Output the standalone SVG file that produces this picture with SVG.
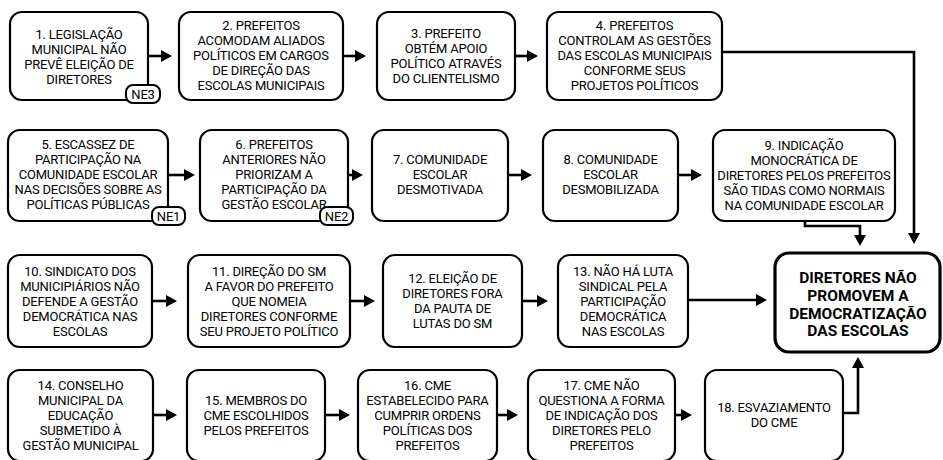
<svg xmlns="http://www.w3.org/2000/svg" width="943" height="460" viewBox="0 0 943 460">
<style>
.box{fill:#fff;stroke:#000;stroke-width:2.2}
.fin{fill:#fff;stroke:#000;stroke-width:3.2}
.badge{fill:#fff;stroke:#000;stroke-width:2}
.t{font-family:Roboto,"Liberation Sans",sans-serif;font-size:13px;text-anchor:middle;fill:#000;letter-spacing:-0.2px}
.b{font-family:Roboto,"Liberation Sans",sans-serif;font-size:15.5px;font-weight:bold;text-anchor:middle;fill:#000}
.c{fill:none;stroke:#000;stroke-width:2.6;marker-end:url(#ah)}
</style>
<defs>
<marker id="ah" markerUnits="userSpaceOnUse" markerWidth="12" markerHeight="12" refX="0" refY="6" orient="auto">
<path d="M0,0 L11,6 L0,12 z" fill="#000"/>
</marker>
</defs>
<g id="connectors">
<path class="c" d="M148,56 H161"/>
<path class="c" d="M343,56 H355"/>
<path class="c" d="M515,56 H527"/>
<path class="c" d="M722,52 H914 V233"/>
<path class="c" d="M168,175 H184"/>
<path class="c" d="M348,175 H352"/>
<path class="c" d="M508,175 H521"/>
<path class="c" d="M678,175 H691"/>
<path class="c" d="M805,221 V226 H860 V235"/>
<path class="c" d="M152,301 H166"/>
<path class="c" d="M350,301 H364"/>
<path class="c" d="M522,301 H537"/>
<path class="c" d="M688,300 H756"/>
<path class="c" d="M153,415 H166"/>
<path class="c" d="M325,415 H339"/>
<path class="c" d="M497,415 H507"/>
<path class="c" d="M675,415 H681"/>
<path class="c" d="M843,413 H858 V368"/>
</g>
<g id="n1">
<rect class="box" x="10" y="12" width="138" height="88" rx="12"/>
<text class="t" x="79"><tspan x="79" y="39">1. LEGISLAÇÃO</tspan><tspan x="79" y="54">MUNICIPAL NÃO</tspan><tspan x="79" y="69">PREVÊ ELEIÇÃO DE</tspan><tspan x="79" y="84">DIRETORES</tspan></text>
<rect class="badge" x="126" y="85" width="34" height="18" rx="7"/>
<text class="t" x="143" y="99">NE3</text>
</g>
<g id="n2">
<rect class="box" x="179" y="12" width="164" height="88" rx="12"/>
<text class="t"><tspan x="261" y="30">2. PREFEITOS</tspan><tspan x="261" y="45">ACOMODAM ALIADOS</tspan><tspan x="261" y="60">POLÍTICOS EM CARGOS</tspan><tspan x="261" y="75">DE DIREÇÃO DAS</tspan><tspan x="261" y="90">ESCOLAS MUNICIPAIS</tspan></text>
</g>
<g id="n3">
<rect class="box" x="377" y="12" width="138" height="88" rx="12"/>
<text class="t"><tspan x="446" y="38">3. PREFEITO</tspan><tspan x="446" y="53">OBTÉM APOIO</tspan><tspan x="446" y="68">POLÍTICO ATRAVÉS</tspan><tspan x="446" y="83">DO CLIENTELISMO</tspan></text>
</g>
<g id="n4">
<rect class="box" x="547" y="12" width="175" height="88" rx="12"/>
<text class="t"><tspan x="634.5" y="30">4. PREFEITOS</tspan><tspan x="634.5" y="45">CONTROLAM AS GESTÕES</tspan><tspan x="634.5" y="60">DAS ESCOLAS MUNICIPAIS</tspan><tspan x="634.5" y="75">CONFORME SEUS</tspan><tspan x="634.5" y="90">PROJETOS POLÍTICOS</tspan></text>
</g>
<g id="n5">
<rect class="box" x="8" y="130" width="160" height="91" rx="12"/>
<text class="t"><tspan x="88" y="149">5. ESCASSEZ DE</tspan><tspan x="88" y="164">PARTICIPAÇÃO NA</tspan><tspan x="88" y="179">COMUNIDADE ESCOLAR</tspan><tspan x="88" y="194">NAS DECISÕES SOBRE AS</tspan><tspan x="88" y="209">POLÍTICAS PÚBLICAS</tspan></text>
<rect class="badge" x="152" y="207" width="33" height="18" rx="7"/>
<text class="t" x="168.5" y="221">NE1</text>
</g>
<g id="n6">
<rect class="box" x="200" y="130" width="148" height="91" rx="12"/>
<text class="t"><tspan x="274" y="149">6. PREFEITOS</tspan><tspan x="274" y="164">ANTERIORES NÃO</tspan><tspan x="274" y="179">PRIORIZAM A</tspan><tspan x="274" y="194">PARTICIPAÇÃO DA</tspan><tspan x="274" y="209">GESTÃO ESCOLAR</tspan></text>
<rect class="badge" x="320" y="207" width="33" height="18" rx="7"/>
<text class="t" x="336.5" y="221">NE2</text>
</g>
<g id="n7">
<rect class="box" x="372" y="130" width="136" height="91" rx="12"/>
<text class="t"><tspan x="440" y="164">7. COMUNIDADE</tspan><tspan x="440" y="179">ESCOLAR</tspan><tspan x="440" y="194">DESMOTIVADA</tspan></text>
</g>
<g id="n8">
<rect class="box" x="543" y="130" width="135" height="91" rx="12"/>
<text class="t"><tspan x="610.5" y="164">8. COMUNIDADE</tspan><tspan x="610.5" y="179">ESCOLAR</tspan><tspan x="610.5" y="194">DESMOBILIZADA</tspan></text>
</g>
<g id="n9">
<rect class="box" x="713" y="130" width="182" height="91" rx="12"/>
<text class="t"><tspan x="804" y="150">9. INDICAÇÃO</tspan><tspan x="804" y="165">MONOCRÁTICA DE</tspan><tspan x="804" y="180">DIRETORES PELOS PREFEITOS</tspan><tspan x="804" y="195">SÃO TIDAS COMO NORMAIS</tspan><tspan x="804" y="210">NA COMUNIDADE ESCOLAR</tspan></text>
</g>
<g id="n10">
<rect class="box" x="8" y="255" width="144" height="92" rx="12"/>
<text class="t"><tspan x="80" y="276">10. SINDICATO DOS</tspan><tspan x="80" y="291">MUNICIPIÁRIOS NÃO</tspan><tspan x="80" y="306">DEFENDE A GESTÃO</tspan><tspan x="80" y="321">DEMOCRÁTICA NAS</tspan><tspan x="80" y="336">ESCOLAS</tspan></text>
</g>
<g id="n11">
<rect class="box" x="188" y="255" width="162" height="92" rx="12"/>
<text class="t"><tspan x="269" y="276">11. DIREÇÃO DO SM</tspan><tspan x="269" y="291">A FAVOR DO PREFEITO</tspan><tspan x="269" y="306">QUE NOMEIA</tspan><tspan x="269" y="321">DIRETORES CONFORME</tspan><tspan x="269" y="336">SEU PROJETO POLÍTICO</tspan></text>
</g>
<g id="n12">
<rect class="box" x="383" y="255" width="139" height="92" rx="12"/>
<text class="t"><tspan x="452.5" y="283">12. ELEIÇÃO DE</tspan><tspan x="452.5" y="298">DIRETORES FORA</tspan><tspan x="452.5" y="313">DA PAUTA DE</tspan><tspan x="452.5" y="328">LUTAS DO SM</tspan></text>
</g>
<g id="n13">
<rect class="box" x="558" y="255" width="130" height="92" rx="12"/>
<text class="t"><tspan x="623" y="276">13. NÃO HÁ LUTA</tspan><tspan x="623" y="291">SINDICAL PELA</tspan><tspan x="623" y="306">PARTICIPAÇÃO</tspan><tspan x="623" y="321">DEMOCRÁTICA</tspan><tspan x="623" y="336">NAS ESCOLAS</tspan></text>
</g>
<g id="n14">
<rect class="box" x="8" y="370" width="145" height="91" rx="12"/>
<text class="t"><tspan x="80.5" y="390">14. CONSELHO</tspan><tspan x="80.5" y="405">MUNICIPAL DA</tspan><tspan x="80.5" y="420">EDUCAÇÃO</tspan><tspan x="80.5" y="435">SUBMETIDO À</tspan><tspan x="80.5" y="450">GESTÃO MUNICIPAL</tspan></text>
</g>
<g id="n15">
<rect class="box" x="187" y="370" width="138" height="91" rx="12"/>
<text class="t"><tspan x="256" y="405">15. MEMBROS DO</tspan><tspan x="256" y="420">CME ESCOLHIDOS</tspan><tspan x="256" y="435">PELOS PREFEITOS</tspan></text>
</g>
<g id="n16">
<rect class="box" x="358" y="370" width="139" height="91" rx="12"/>
<text class="t"><tspan x="427.5" y="390">16. CME</tspan><tspan x="427.5" y="405">ESTABELECIDO PARA</tspan><tspan x="427.5" y="420">CUMPRIR ORDENS</tspan><tspan x="427.5" y="435">POLÍTICAS DOS</tspan><tspan x="427.5" y="450">PREFEITOS</tspan></text>
</g>
<g id="n17">
<rect class="box" x="528" y="370" width="147" height="91" rx="12"/>
<text class="t"><tspan x="601.5" y="390">17. CME NÃO</tspan><tspan x="601.5" y="405">QUESTIONA A FORMA</tspan><tspan x="601.5" y="420">DE INDICAÇÃO DOS</tspan><tspan x="601.5" y="435">DIRETORES PELO</tspan><tspan x="601.5" y="450">PREFEITOS</tspan></text>
</g>
<g id="n18">
<rect class="box" x="705" y="370" width="138" height="91" rx="12"/>
<text class="t"><tspan x="774" y="412">18. ESVAZIAMENTO</tspan><tspan x="774" y="427">DO CME</tspan></text>
</g>
<g id="final">
<rect class="fin" x="775" y="253" width="165" height="99" rx="14"/>
<text class="b"><tspan x="858" y="283">DIRETORES NÃO</tspan><tspan x="858" y="301">PROMOVEM A</tspan><tspan x="858" y="318.5">DEMOCRATIZAÇÃO</tspan><tspan x="858" y="336">DAS ESCOLAS</tspan></text>
</g>
</svg>
